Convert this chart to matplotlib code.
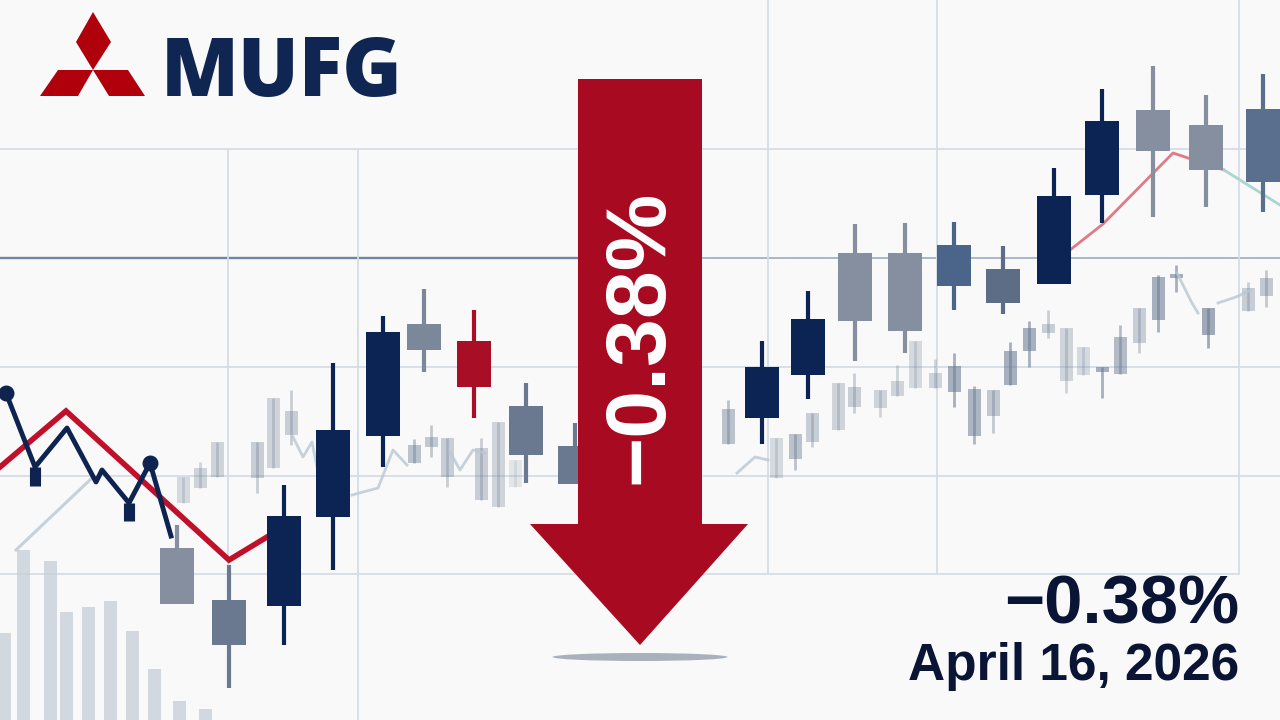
import matplotlib
matplotlib.use('Agg')
import matplotlib.pyplot as plt
from matplotlib.patches import Polygon, Ellipse

# ---------------- data (price units, x = session position) ----------------
c_x    = [177, 229, 284, 333, 383, 424, 474, 526, 575, 762, 808, 855, 905, 954, 1003, 1054, 1102, 1153, 1206, 1263]
c_high = [195, 155, 235, 357, 404, 431, 410, 337, 297, 379, 429, 496, 497, 498, 474, 552, 631, 654, 625, 646]
c_top  = [172, 120, 204, 290, 388, 396, 379, 314, 274, 353, 401, 467, 467, 475, 451, 524, 599, 610, 595, 611]
c_bot  = [116, 75, 114, 203, 284, 370, 333, 265, 236, 302, 345, 399, 389, 434, 417, 436, 525, 569, 550, 538]
c_low  = [116, 32, 75, 150, 253, 348, 302, 237, 236, 276, 321, 359, 367, 410, 406, 436, 497, 503, 513, 508]
c_kind = ['gray', 'slate', 'navy', 'navy', 'navy', 'gray2', 'red', 'slate', 'slate', 'navy', 'navy',
          'gray', 'gray', 'blue', 'slate2', 'navy', 'navy', 'gray', 'gray', 'blue2']

bg_x    = [183, 200, 217, 257, 273, 291, 414, 431, 447, 481, 498, 515,
           728, 776, 795, 812, 838, 854, 880, 897, 915, 935, 954, 974, 993, 1010, 1029, 1048,
           1066, 1083, 1102, 1120, 1139, 1158, 1176, 1208, 1248, 1266]
bg_high = [243, 258, 278, 278, 322, 330, 281, 295, 282, 282, 298, 260,
           320, 282, 286, 307, 337, 347, 330, 355, 379, 361, 367, 334, 330, 378, 399, 410,
           392, 373, 353, 395, 412, 445, 455, 412, 438, 450]
bg_top  = [243, 252, 278, 278, 322, 309, 275, 283, 282, 272, 298, 260,
           311, 282, 286, 307, 337, 333, 330, 339, 379, 347, 354, 331, 330, 369, 392, 396,
           392, 373, 353, 383, 412, 443, 446, 412, 432, 442]
bg_bot  = [217, 232, 243, 242, 252, 285, 257, 273, 243, 220, 213, 233,
           276, 242, 261, 278, 290, 313, 312, 324, 332, 332, 328, 284, 304, 335, 369, 387,
           339, 345, 348, 346, 377, 400, 442, 385, 409, 424]
bg_low  = [217, 232, 243, 227, 252, 275, 257, 263, 233, 220, 213, 233,
           276, 242, 250, 273, 290, 307, 303, 324, 332, 332, 313, 276, 287, 335, 353, 382,
           327, 345, 322, 346, 367, 388, 428, 372, 409, 413]
bg_alpha = [0.25, 0.3, 0.3, 0.35, 0.3, 0.35, 0.45, 0.4, 0.35, 0.35, 0.3, 0.15,
            0.45, 0.25, 0.45, 0.35, 0.3, 0.35, 0.3, 0.3, 0.25, 0.3, 0.6, 0.55, 0.4, 0.6, 0.6, 0.35,
            0.3, 0.25, 0.6, 0.5, 0.35, 0.6, 0.6, 0.65, 0.35, 0.4]

vol_x = [4, 23, 50, 66, 88, 110, 132, 154, 179, 205]
vol_h = [87, 170, 159, 108, 113, 119, 89, 51, 19, 11]

red_x = [0, 66, 229, 267]
red_y = [253, 309, 160, 183]
navy_x = [6, 35, 67, 96, 102, 129, 150, 171]
navy_y = [327, 253, 292, 238, 250, 217, 257, 184]
navy_mark_x = [6, 150]
navy_mark_y = [327, 257]
navy_stub_x = [35, 129]
navy_stub_top = [253, 217]
navy_stub_bot = [234, 199]
pale_x = [16, 92]
pale_y = [170, 242]
red2_x = [1070, 1103, 1173, 1224]
red2_y = [470, 496, 567, 550]
teal_x = [1224, 1280]
teal_y = [550, 515]
faint_lines = [
    ([293, 303, 312, 317], [283, 263, 278, 253]),
    ([352, 378, 393, 407], [225, 232, 270, 255]),
    ([450, 460, 473, 485], [268, 250, 270, 267]),
    ([737, 755, 768], [247, 263, 260]),
    ([1177, 1192, 1198], [447, 417, 407]),
    ([1218, 1236, 1251], [417, 423, 430]),
]

grid_h = [571, 462, 353, 244, 146]
grid_v = [228, 358, 768, 937, 1239]

change_text = "\u22120.38%"
date_text = "April 16, 2026"
brand = "MUFG"

# ---------------- styling ----------------
colors = {'navy': '#0b2454', 'gray': '#858fa0', 'gray2': '#7a889a', 'slate': '#6b7990',
          'slate2': '#5d6d86', 'red': '#a80f27', 'blue': '#4a6589', 'blue2': '#5a6e8e'}
FONT = ['Liberation Sans', 'DejaVu Sans']

fig = plt.figure(figsize=(12.8, 7.2), dpi=100, facecolor='#f8f9f8')
ax = fig.add_axes([0, 0, 1, 1])
ax.set_facecolor('#f8f9f8')
ax.set_xlim(0, 1280)
ax.set_ylim(0, 720)
ax.axis('off')

# grid
for i, gy in enumerate(grid_h):
    if i == 1:
        ax.hlines(gy, 0, 640, color='#6f86a8', lw=1.7, zorder=1)
        ax.hlines(gy, 640, 1280, color='#a9b7c9', lw=1.4, zorder=1)
    elif i == len(grid_h) - 1:
        ax.hlines(gy, 0, 1240, color='#d6dde5', lw=1.3, zorder=1)
    else:
        ax.hlines(gy, 0, 1280, color='#d6dde5', lw=1.3, zorder=1)
for i, gx in enumerate(grid_v):
    if i == 0:
        ax.vlines(gx, 153, grid_h[0], color='#d6dde5', lw=1.3, zorder=1)
    elif i == 1:
        ax.vlines(gx, 0, grid_h[0], color='#d6dde5', lw=1.3, zorder=1)
    else:
        ax.vlines(gx, grid_h[-1], 720, color='#d6dde5', lw=1.3, zorder=1)

# volume bars
ax.bar(vol_x, vol_h, width=13, bottom=0, color='#c6ced8', alpha=0.75, zorder=1.5, linewidth=0)

# background candles
for x, hi, t, b, lo, a in zip(bg_x, bg_high, bg_top, bg_bot, bg_low, bg_alpha):
    ax.vlines(x, lo, hi, color='#6f7f96', alpha=a, lw=2, zorder=2)
    ax.bar(x, t - b, width=13, bottom=b, color='#6f7f96', alpha=a, linewidth=0, zorder=2)

# faint lines
for fx, fy in faint_lines:
    ax.plot(fx, fy, color='#b9c7d4', lw=2, alpha=0.8, zorder=2)
ax.plot(pale_x, pale_y, color='#c5d2dd', lw=2.2, zorder=2)
ax.plot(red2_x, red2_y, color='#e07a86', lw=2, zorder=2.5)
ax.plot(teal_x, teal_y, color='#a9d6d0', lw=2, zorder=2.5)

# left lines
ax.plot(red_x, red_y, color='#c0102a', lw=4, zorder=3, solid_joinstyle='miter')
ax.plot(navy_x, navy_y, color='#0f2350', lw=3.5, zorder=3.2)
ax.vlines(navy_stub_x, navy_stub_bot, navy_stub_top, color='#0f2350', lw=8, zorder=3.2)
ax.scatter(navy_mark_x, navy_mark_y, s=110, color='#0f2350', zorder=3.3)

# main candles
for x, hi, t, b, lo, k in zip(c_x, c_high, c_top, c_bot, c_low, c_kind):
    col = colors[k]
    ax.vlines(x, lo, hi, color=col, lw=3, zorder=4)
    ax.bar(x, t - b, width=34, bottom=b, color=col, linewidth=0, zorder=4.1)

# arrow (decoration)
arrow = Polygon([(578, 641), (702, 641), (702, 196), (748, 196), (640, 75), (530, 196), (578, 196)],
                closed=True, facecolor='#a80a22', edgecolor='none', zorder=5)
ax.add_patch(arrow)
ax.add_patch(Ellipse((640, 63), 175, 8, facecolor='#a9b2bc', edgecolor='none', zorder=4.9))
ax.text(640, 383, change_text, rotation=90, ha='center', va='center', color='white',
        fontsize=62, fontweight='bold', family=FONT, zorder=6)

# logo
logo_c = '#b0000c'
ax.add_patch(Polygon([(93, 708), (76, 678), (93, 650), (111, 678)], facecolor=logo_c, edgecolor='none', zorder=6))
ax.add_patch(Polygon([(58, 650), (93, 650), (78, 624), (40, 624)], facecolor=logo_c, edgecolor='none', zorder=6))
ax.add_patch(Polygon([(93, 650), (128, 650), (145, 624), (109, 624)], facecolor=logo_c, edgecolor='none', zorder=6))
ax.text(161, 624, brand, ha='left', va='baseline', color='#0f2552', fontsize=58,
        fontweight='heavy', family=['Open Sans', 'DejaVu Sans'], zorder=6)

# bottom right labels
ax.text(1239, 97, change_text, ha='right', va='baseline', color='#0a1535', fontsize=49.5,
        fontweight='bold', family=FONT, zorder=6)
ax.text(1239, 40, date_text, ha='right', va='baseline', color='#0a1535', fontsize=37,
        fontweight='bold', family=FONT, zorder=6)

fig.savefig('out.png', dpi=100, facecolor=fig.get_facecolor())
